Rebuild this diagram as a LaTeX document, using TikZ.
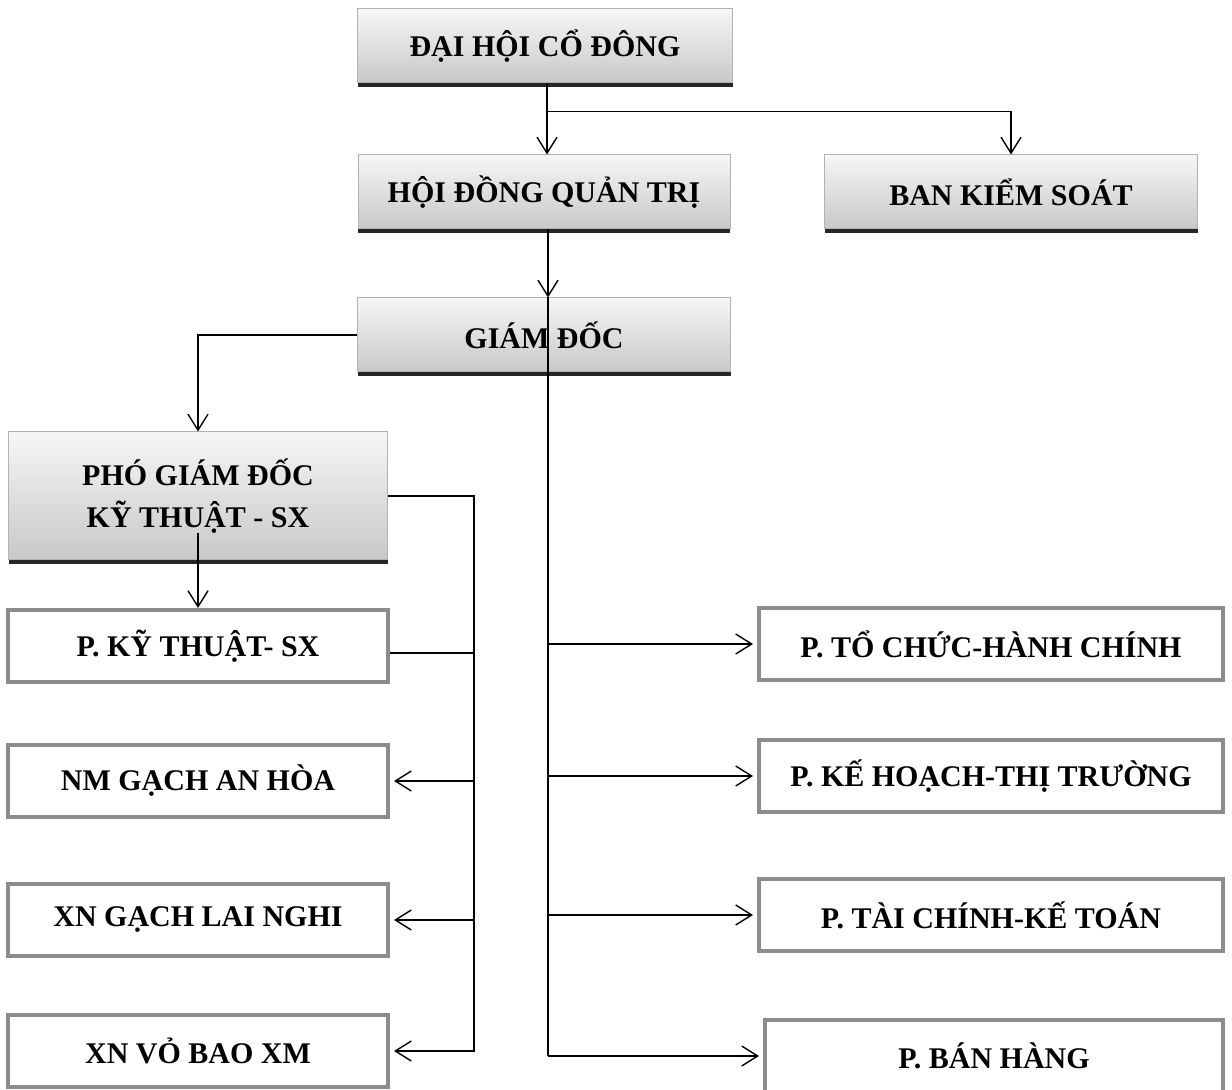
\documentclass[tikz,border=0pt]{standalone}
\usepackage{fontspec}
\setmainfont{Liberation Serif}
\usepackage{tikz}
\usetikzlibrary{arrows.meta,shadows}
\definecolor{boxgray}{RGB}{140, 140, 140}
\definecolor{shadetop}{RGB}{246, 246, 246}
\definecolor{shadebottom}{RGB}{200, 200, 202}

\begin{document}
\begin{tikzpicture}[x=0.5pt, y=-0.5pt, line width=0.7pt, >={Straight Barb[length=8pt,width=10pt]},
	levelbox/.style={draw=black!30, line width=0.5pt, top color=shadetop, bottom color=shadebottom, minimum height=37pt, inner sep=0pt, font=\bfseries\fontsize{15}{21}\selectfont, drop shadow={opacity=1, fill=black!85, shadow xshift=0pt, shadow yshift=-2pt}},
	unitbox/.style={draw=boxgray, line width=2pt, fill=white, minimum width=190pt, minimum height=36pt, inner sep=0pt, font=\bfseries\fontsize{15}{21}\selectfont}]
	\useasboundingbox (0,0) rectangle (1232,1090);
	\node[levelbox, minimum width=187.5pt] (dhcd) at (545,46) {ĐẠI HỘI CỔ ĐÔNG};
	\node[levelbox, minimum width=186pt] (hdqt) at (544,192) {HỘI ĐỒNG QUẢN TRỊ};
	\node[levelbox, minimum width=186.5pt] (bks) at (1011,192) {BAN KIỂM SOÁT};
	\node[levelbox, minimum width=186.5pt] (gd) at (544,335) {GIÁM ĐỐC};
	\node[levelbox, minimum width=189.5pt, minimum height=64pt, align=center] (pgd) at (198,496) {PHÓ GIÁM ĐỐC\\KỸ THUẬT - SX};
	\node[unitbox] (pkt) at (198,646) {P. KỸ THUẬT- SX};
	\node[unitbox] (nm) at (198,781) {NM GẠCH AN HÒA};
	\node[unitbox] (lainghi) at (198,920) {XN GẠCH LAI NGHI};
	\node[unitbox] (vobao) at (198,1051) {XN VỎ BAO XM};
	\node[unitbox, minimum width=232pt] (ptc) at (991,644) {P. TỔ CHỨC-HÀNH CHÍNH};
	\node[unitbox, minimum width=232pt] (pkh) at (991,776) {P. KẾ HOẠCH-THỊ TRƯỜNG};
	\node[unitbox, minimum width=232pt] (ptckt) at (991,915) {P. TÀI CHÍNH-KẾ TOÁN};
	\node[unitbox, minimum width=229pt] (pbh) at (994,1056) {P. BÁN HÀNG};
	\draw[->] ([xshift=1pt]dhcd.south) -- ([xshift=1pt]dhcd.south |- hdqt.north);
	\coordinate (split) at ([xshift=1pt, yshift=-14pt]dhcd.south);
	\draw[->] (split) -| (bks.north);
	\coordinate (rbus) at ([xshift=2pt]hdqt.south);
	\draw[->] (rbus) -- (rbus |- gd.north);
	\draw (rbus |- gd.north) -- (rbus |- pbh.west);
	\foreach \n in {ptc,pkh,ptckt,pbh}
		\draw[->, shorten >=2pt] (rbus |- \n.west) -- (\n.west);
	\draw[->] (gd.west) -| (pgd.north);
	\draw[->] ([yshift=13.5pt]pgd.south) -- (pkt.north);
	\draw[->, shorten >=2pt] (pgd.east) -- ++(86,0) coordinate (lbus) |- (vobao.east);
	\draw ([yshift=-3.5pt]pkt.east) -- ([yshift=-3.5pt]pkt.east -| lbus);
	\foreach \n in {nm,lainghi}
		\draw[->, shorten >=2pt] (lbus |- \n.east) -- (\n.east);
\end{tikzpicture}
\end{document}
